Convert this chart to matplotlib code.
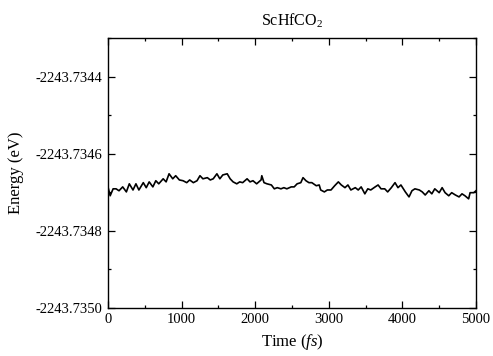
import matplotlib
matplotlib.use("Agg")
import matplotlib.pyplot as plt
from matplotlib.ticker import MultipleLocator, FormatStrFormatter

plt.rcParams['font.family'] = ['Liberation Serif', 'DejaVu Serif']
plt.rcParams['mathtext.fontset'] = 'custom'
plt.rcParams['mathtext.rm'] = 'Liberation Serif'
plt.rcParams['mathtext.it'] = 'Liberation Serif:italic'

# time (fs) and total energy (eV)
time_fs = [0, 30, 70, 110, 150, 200, 250, 290, 340, 380, 420, 480, 520, 560, 610,
           650, 690, 750, 790, 830, 880, 920, 970, 1020, 1070, 1110, 1160, 1210,
           1250, 1290, 1350, 1390, 1430, 1480, 1520, 1560, 1620, 1660, 1700, 1750,
           1790, 1830, 1890, 1930, 1970, 2020, 2080, 2090, 2120, 2160, 2220, 2260,
           2300, 2350, 2390, 2430, 2490, 2530, 2570, 2620, 2650, 2690, 2730, 2770,
           2830, 2870, 2890, 2940, 2980, 3030, 3080, 3130, 3170, 3220, 3260, 3300,
           3360, 3400, 3440, 3490, 3530, 3570, 3630, 3670, 3710, 3760, 3800, 3850,
           3900, 3940, 3980, 4040, 4090, 4130, 4170, 4230, 4270, 4310, 4360, 4400,
           4440, 4500, 4540, 4580, 4630, 4670, 4720, 4770, 4810, 4850, 4900, 4920,
           4970, 5000]
energy_ev = [-2243.734686, -2243.734709, -2243.734691, -2243.734691, -2243.734696,
             -2243.734686, -2243.734699, -2243.734678, -2243.734694, -2243.734678,
             -2243.734694, -2243.734675, -2243.734688, -2243.734673, -2243.734686,
             -2243.734670, -2243.734678, -2243.734665, -2243.734673, -2243.734652,
             -2243.734665, -2243.734657, -2243.734668, -2243.734670, -2243.734675,
             -2243.734668, -2243.734675, -2243.734670, -2243.734657, -2243.734665,
             -2243.734662, -2243.734668, -2243.734665, -2243.734652, -2243.734665,
             -2243.734655, -2243.734652, -2243.734665, -2243.734673, -2243.734678,
             -2243.734673, -2243.734675, -2243.734665, -2243.734673, -2243.734670,
             -2243.734678, -2243.734668, -2243.734657, -2243.734675, -2243.734678,
             -2243.734681, -2243.734691, -2243.734688, -2243.734691, -2243.734688,
             -2243.734691, -2243.734686, -2243.734686, -2243.734678, -2243.734675,
             -2243.734662, -2243.734670, -2243.734675, -2243.734675, -2243.734683,
             -2243.734681, -2243.734694, -2243.734699, -2243.734694, -2243.734694,
             -2243.734683, -2243.734673, -2243.734681, -2243.734688, -2243.734681,
             -2243.734694, -2243.734688, -2243.734694, -2243.734686, -2243.734704,
             -2243.734691, -2243.734694, -2243.734686, -2243.734681, -2243.734691,
             -2243.734691, -2243.734699, -2243.734688, -2243.734675, -2243.734688,
             -2243.734681, -2243.734699, -2243.734712, -2243.734696, -2243.734691,
             -2243.734694, -2243.734699, -2243.734707, -2243.734696, -2243.734704,
             -2243.734691, -2243.734701, -2243.734688, -2243.734701, -2243.734709,
             -2243.734701, -2243.734707, -2243.734712, -2243.734704, -2243.734709,
             -2243.734717, -2243.734701, -2243.734701, -2243.734696]

fig = plt.figure(figsize=(4.93, 3.56), dpi=100)
ax = fig.add_axes([0.219, 0.135, 0.7465, 0.758])
ax.plot(time_fs, energy_ev, color='black', lw=1.2)

ax.set_xlim(0, 5000)
ax.set_ylim(-2243.7350, -2243.7343)
ax.xaxis.set_major_locator(MultipleLocator(1000))
ax.xaxis.set_minor_locator(MultipleLocator(500))
ax.yaxis.set_major_locator(MultipleLocator(0.0002))
ax.yaxis.set_minor_locator(MultipleLocator(0.0001))
ax.yaxis.set_major_formatter(FormatStrFormatter('%.4f'))
ax.tick_params(which='both', direction='in', top=True, right=True, labelsize=10.5, pad=4)
ax.tick_params(which='major', length=4.8, width=0.9)
ax.tick_params(which='minor', length=2.4, width=0.9)
for s in ax.spines.values():
    s.set_linewidth(1.0)

ax.set_xlabel(r'Time ($\mathit{fs}$)', fontsize=12, labelpad=4)
ax.set_ylabel('Energy (eV)', fontsize=12, labelpad=8)
ax.set_title(r'ScHfCO$_2$', fontsize=11.5, pad=9)

fig.savefig('out.png', dpi=100)
